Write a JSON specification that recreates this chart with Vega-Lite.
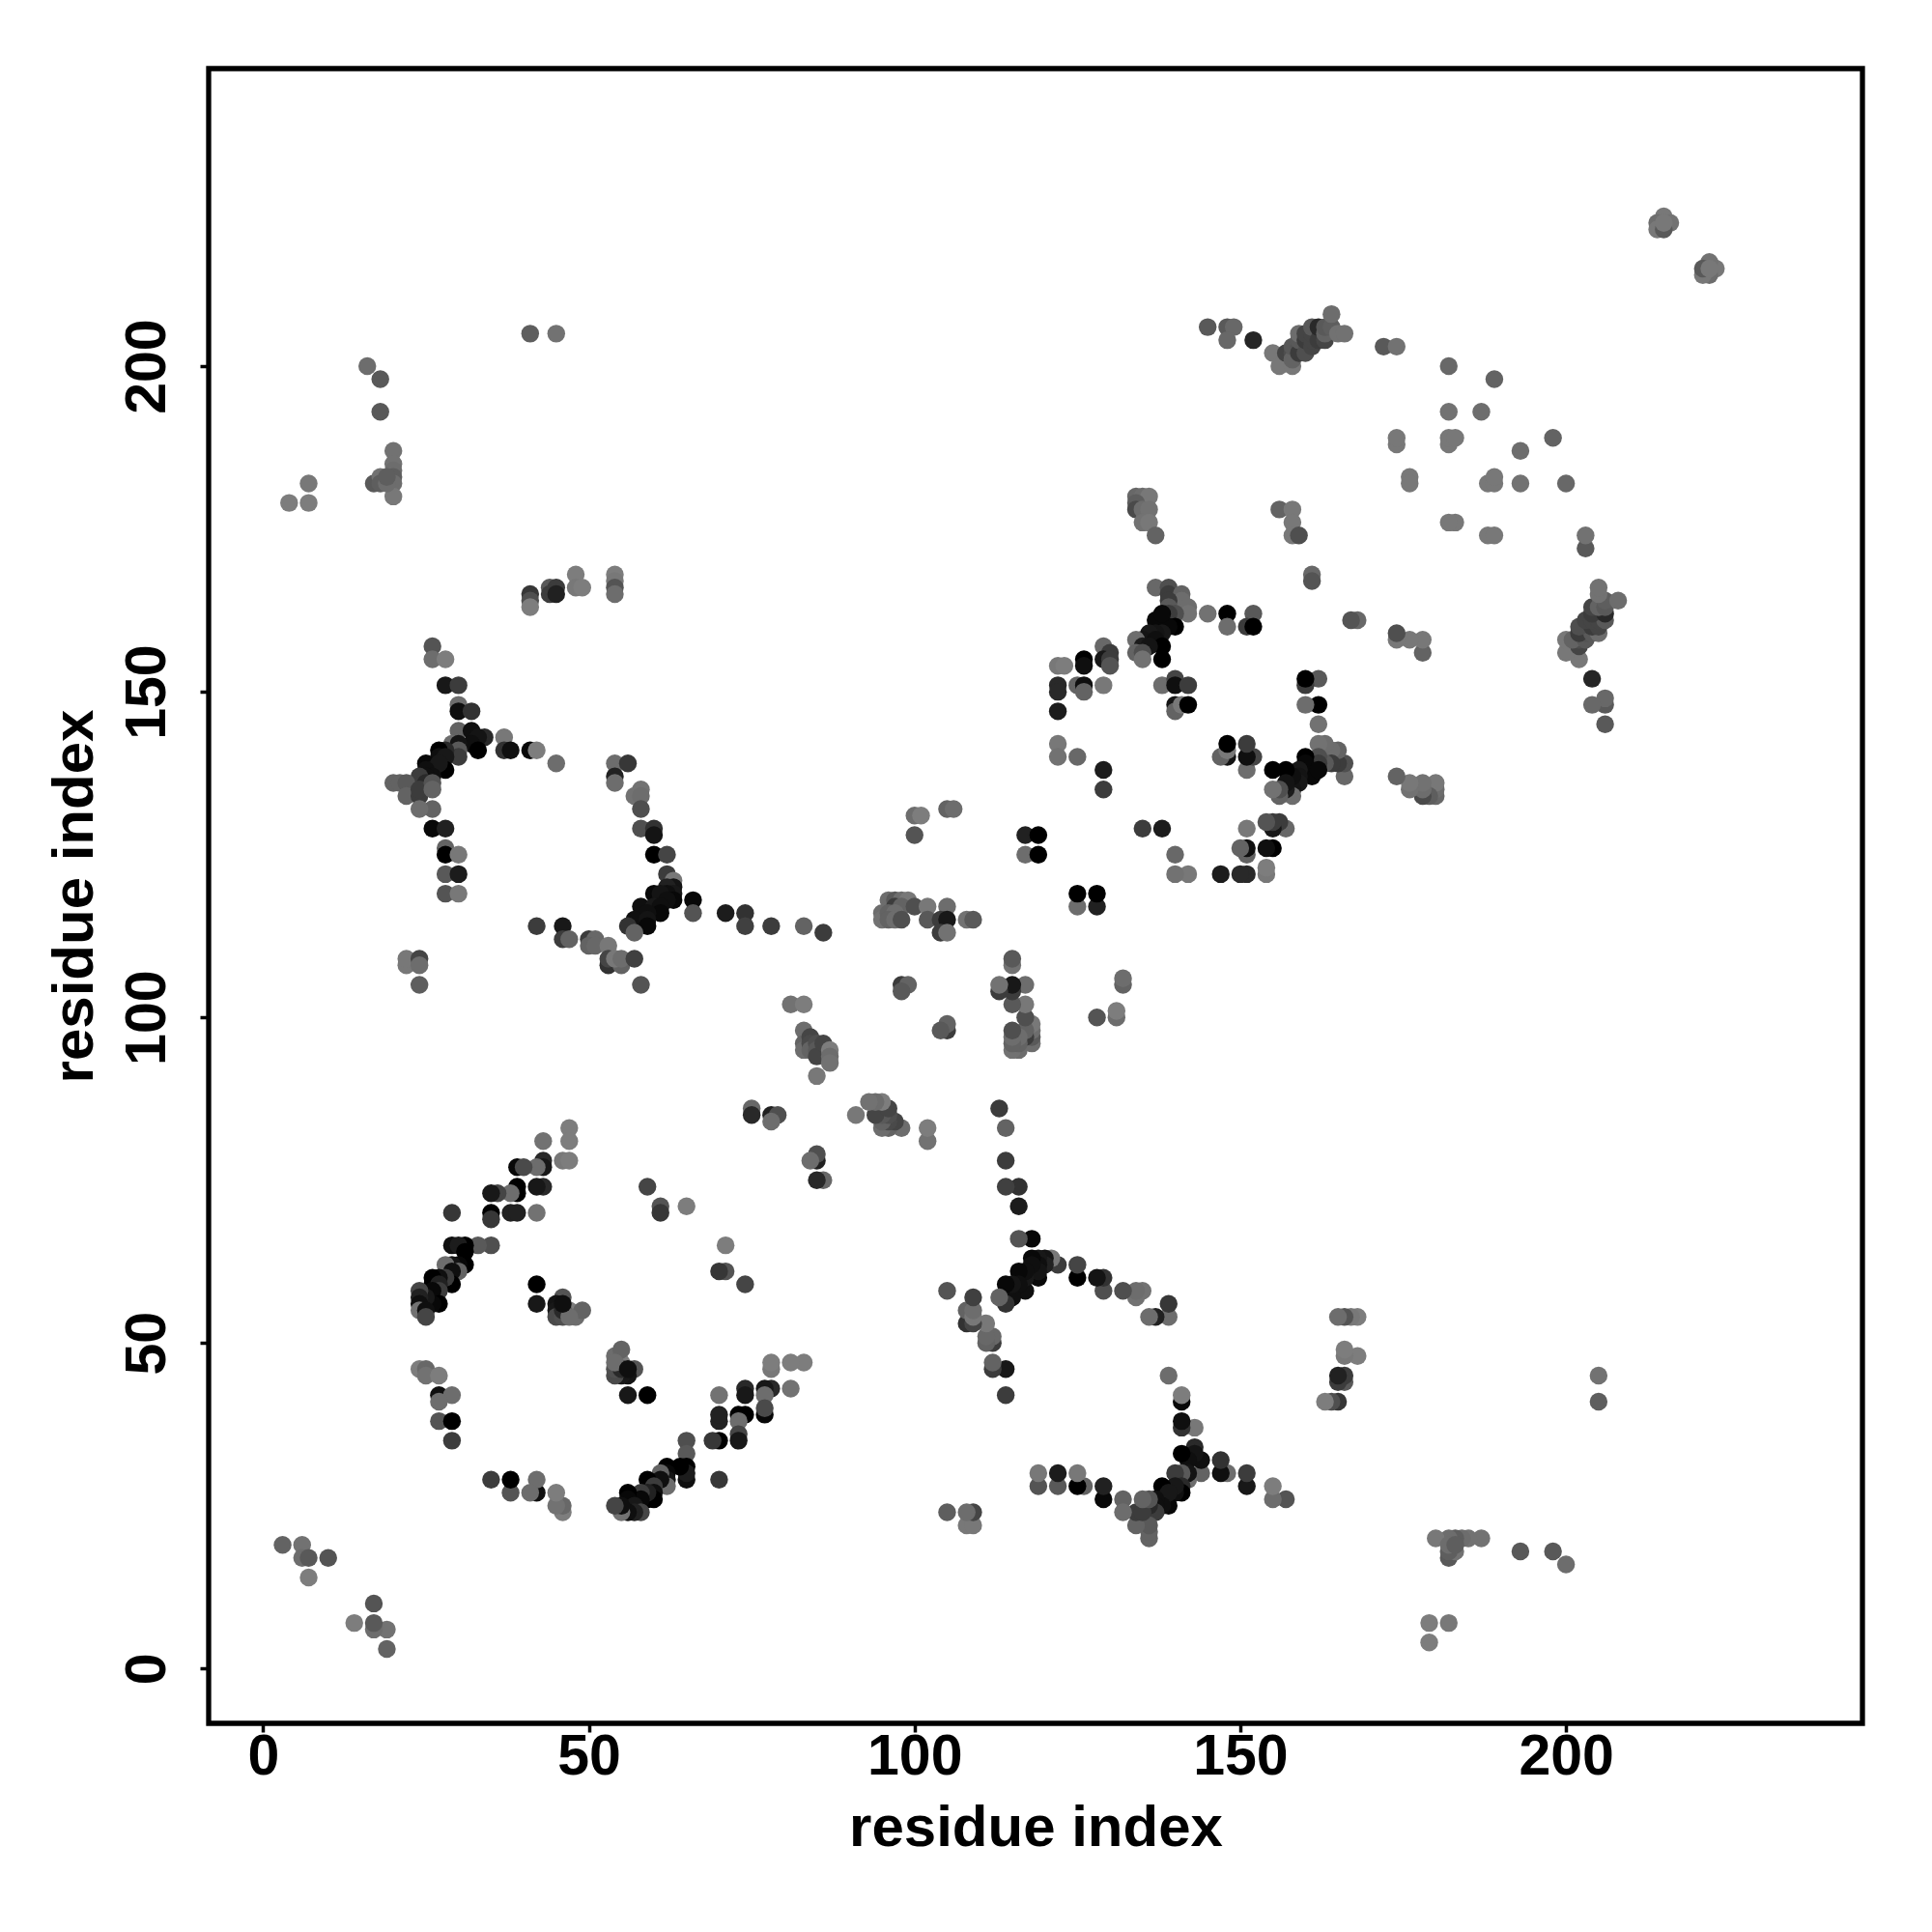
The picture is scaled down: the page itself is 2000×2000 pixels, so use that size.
{"$schema":"https://vega.github.io/schema/vega-lite/v6.json","autosize":{"type":"none"},"padding":{"left":216,"top":71,"right":72,"bottom":216},"width":1712,"height":1713,"background":"white","view":{"stroke":"black","strokeWidth":5.3,"fill":"white"},"config":{"font":"Liberation Sans"},
"data":{"values":[
{"x":3,"y":19,"g":100},{"x":19,"y":3,"g":100},{"x":6,"y":19,"g":115},{"x":19,"y":6,"g":115},{"x":6,"y":17,"g":110},{"x":17,"y":6,"g":110},{"x":7,"y":17,"g":90},{"x":17,"y":7,"g":90},{"x":10,"y":17,"g":85},{"x":17,"y":10,"g":85},{"x":7,"y":14,"g":125},{"x":14,"y":7,"g":125},
{"x":47,"y":83,"g":125},{"x":83,"y":47,"g":125},{"x":43,"y":81,"g":115},{"x":81,"y":43,"g":115},{"x":47,"y":81,"g":125},{"x":81,"y":47,"g":125},{"x":46,"y":78,"g":120},{"x":78,"y":46,"g":120},{"x":47,"y":78,"g":125},{"x":78,"y":47,"g":125},{"x":43,"y":78,"g":40},{"x":78,"y":43,"g":40},{"x":43,"y":77,"g":20},{"x":77,"y":43,"g":20},{"x":42,"y":77,"g":110},{"x":77,"y":42,"g":110},{"x":39,"y":77,"g":5},{"x":77,"y":39,"g":5},{"x":40,"y":77,"g":75},{"x":77,"y":40,"g":75},{"x":43,"y":74,"g":40},{"x":74,"y":43,"g":40},{"x":42,"y":74,"g":20},{"x":74,"y":42,"g":20},{"x":39,"y":74,"g":0},{"x":74,"y":39,"g":0},{"x":39,"y":73,"g":0},{"x":73,"y":39,"g":0},{"x":38,"y":73,"g":110},{"x":73,"y":38,"g":110},{"x":36,"y":73,"g":70},{"x":73,"y":36,"g":70},{"x":35,"y":73,"g":20},{"x":73,"y":35,"g":20},{"x":42,"y":70,"g":115},{"x":70,"y":42,"g":115},{"x":38,"y":70,"g":30},{"x":70,"y":38,"g":30},{"x":39,"y":70,"g":30},{"x":70,"y":39,"g":30},{"x":35,"y":70,"g":0},{"x":70,"y":35,"g":0},{"x":35,"y":69,"g":55},{"x":69,"y":35,"g":55},{"x":29,"y":70,"g":55},{"x":70,"y":29,"g":55},{"x":35,"y":65,"g":80},{"x":65,"y":35,"g":80},{"x":33,"y":65,"g":90},{"x":65,"y":33,"g":90},{"x":31,"y":65,"g":0},{"x":65,"y":31,"g":0},{"x":29,"y":65,"g":10},{"x":65,"y":29,"g":10},{"x":30,"y":65,"g":25},{"x":65,"y":30,"g":25},{"x":31,"y":64,"g":0},{"x":64,"y":31,"g":0},{"x":31,"y":62,"g":0},{"x":62,"y":31,"g":0},{"x":30,"y":62,"g":5},{"x":62,"y":30,"g":5},{"x":29,"y":62,"g":15},{"x":62,"y":29,"g":15},{"x":28,"y":62,"g":110},{"x":62,"y":28,"g":110},{"x":30,"y":61,"g":100},{"x":61,"y":30,"g":100},{"x":29,"y":61,"g":10},{"x":61,"y":29,"g":10},{"x":29,"y":59,"g":0},{"x":59,"y":29,"g":0},{"x":28,"y":60,"g":60},{"x":60,"y":28,"g":60},{"x":27,"y":60,"g":10},{"x":60,"y":27,"g":10},{"x":26,"y":60,"g":0},{"x":60,"y":26,"g":0},{"x":26,"y":59,"g":0},{"x":59,"y":26,"g":0},{"x":27,"y":59,"g":30},{"x":59,"y":27,"g":30},{"x":27,"y":58,"g":60},{"x":58,"y":27,"g":60},{"x":26,"y":58,"g":5},{"x":58,"y":26,"g":5},{"x":27,"y":56,"g":0},{"x":56,"y":27,"g":0},{"x":26,"y":56,"g":5},{"x":56,"y":26,"g":5},{"x":25,"y":57,"g":20},{"x":57,"y":25,"g":20},{"x":24,"y":58,"g":70},{"x":58,"y":24,"g":70},{"x":24,"y":57,"g":30},{"x":57,"y":24,"g":30},{"x":24,"y":56,"g":10},{"x":56,"y":24,"g":10},{"x":24,"y":55,"g":115},{"x":55,"y":24,"g":115},{"x":25,"y":55,"g":10},{"x":55,"y":25,"g":10},{"x":25,"y":54,"g":70},{"x":54,"y":25,"g":70},
{"x":42,"y":59,"g":0},{"x":59,"y":42,"g":0},{"x":42,"y":56,"g":20},{"x":56,"y":42,"g":20},{"x":46,"y":57,"g":85},{"x":57,"y":46,"g":85},{"x":45,"y":56,"g":15},{"x":56,"y":45,"g":15},{"x":45,"y":55,"g":20},{"x":55,"y":45,"g":20},{"x":45,"y":54,"g":75},{"x":54,"y":45,"g":75},{"x":46,"y":54,"g":80},{"x":54,"y":46,"g":80},{"x":47,"y":55,"g":125},{"x":55,"y":47,"g":125},{"x":48,"y":54,"g":110},{"x":54,"y":48,"g":110},{"x":49,"y":55,"g":100},{"x":55,"y":49,"g":100},{"x":46,"y":55,"g":40},{"x":55,"y":46,"g":40},{"x":47,"y":54,"g":110},{"x":54,"y":47,"g":110},{"x":46,"y":56,"g":10},{"x":56,"y":46,"g":10},
{"x":59,"y":74,"g":70},{"x":74,"y":59,"g":70},{"x":61,"y":71,"g":85},{"x":71,"y":61,"g":85},{"x":61,"y":70,"g":55},{"x":70,"y":61,"g":55},{"x":65,"y":71,"g":125},{"x":71,"y":65,"g":125},{"x":75,"y":86,"g":105},{"x":86,"y":75,"g":105},{"x":75,"y":85,"g":40},{"x":85,"y":75,"g":40},{"x":78,"y":85,"g":30},{"x":85,"y":78,"g":30},{"x":79,"y":85,"g":80},{"x":85,"y":79,"g":80},{"x":78,"y":84,"g":110},{"x":84,"y":78,"g":110},
{"x":24,"y":46,"g":125},{"x":46,"y":24,"g":125},{"x":25,"y":46,"g":105},{"x":46,"y":25,"g":105},{"x":25,"y":45,"g":115},{"x":45,"y":25,"g":115},{"x":27,"y":45,"g":125},{"x":45,"y":27,"g":125},{"x":27,"y":42,"g":10},{"x":42,"y":27,"g":10},{"x":29,"y":42,"g":110},{"x":42,"y":29,"g":110},{"x":27,"y":41,"g":110},{"x":41,"y":27,"g":110},{"x":27,"y":38,"g":85},{"x":38,"y":27,"g":85},{"x":29,"y":38,"g":0},{"x":38,"y":29,"g":0},{"x":29,"y":35,"g":60},{"x":35,"y":29,"g":60},
{"x":41,"y":205,"g":95},{"x":205,"y":41,"g":95},{"x":45,"y":205,"g":115},{"x":205,"y":45,"g":115},{"x":16,"y":200,"g":110},{"x":200,"y":16,"g":110},{"x":18,"y":198,"g":90},{"x":198,"y":18,"g":90},{"x":18,"y":193,"g":90},{"x":193,"y":18,"g":90},{"x":20,"y":187,"g":115},{"x":187,"y":20,"g":115},{"x":20,"y":185,"g":115},{"x":185,"y":20,"g":115},{"x":20,"y":184,"g":110},{"x":184,"y":20,"g":110},{"x":20,"y":183,"g":95},{"x":183,"y":20,"g":95},{"x":20,"y":182,"g":110},{"x":182,"y":20,"g":110},{"x":20,"y":180,"g":120},{"x":180,"y":20,"g":120},{"x":17,"y":182,"g":90},{"x":182,"y":17,"g":90},{"x":18,"y":183,"g":115},{"x":183,"y":18,"g":115},{"x":18,"y":182,"g":95},{"x":182,"y":18,"g":95},{"x":19,"y":182,"g":110},{"x":182,"y":19,"g":110},{"x":19,"y":183,"g":95},{"x":183,"y":19,"g":95},{"x":7,"y":182,"g":120},{"x":182,"y":7,"g":120},{"x":4,"y":179,"g":125},{"x":179,"y":4,"g":125},{"x":7,"y":179,"g":125},{"x":179,"y":7,"g":125},
{"x":41,"y":165,"g":55},{"x":165,"y":41,"g":55},{"x":41,"y":164,"g":80},{"x":164,"y":41,"g":80},{"x":41,"y":163,"g":125},{"x":163,"y":41,"g":125},{"x":44,"y":166,"g":90},{"x":166,"y":44,"g":90},{"x":45,"y":166,"g":60},{"x":166,"y":45,"g":60},{"x":44,"y":165,"g":60},{"x":165,"y":44,"g":60},{"x":45,"y":165,"g":30},{"x":165,"y":45,"g":30},{"x":48,"y":168,"g":125},{"x":168,"y":48,"g":125},{"x":48,"y":166,"g":120},{"x":166,"y":48,"g":120},{"x":49,"y":166,"g":125},{"x":166,"y":49,"g":125},{"x":54,"y":168,"g":125},{"x":168,"y":54,"g":125},{"x":54,"y":167,"g":120},{"x":167,"y":54,"g":120},{"x":54,"y":166,"g":85},{"x":166,"y":54,"g":85},{"x":54,"y":165,"g":110},{"x":165,"y":54,"g":110},
{"x":26,"y":157,"g":85},{"x":157,"y":26,"g":85},{"x":26,"y":155,"g":110},{"x":155,"y":26,"g":110},{"x":28,"y":155,"g":125},{"x":155,"y":28,"g":125},{"x":28,"y":151,"g":20},{"x":151,"y":28,"g":20},{"x":30,"y":151,"g":60},{"x":151,"y":30,"g":60},{"x":30,"y":148,"g":110},{"x":148,"y":30,"g":110},{"x":30,"y":147,"g":10},{"x":147,"y":30,"g":10},{"x":32,"y":147,"g":50},{"x":147,"y":32,"g":50},{"x":30,"y":144,"g":100},{"x":144,"y":30,"g":100},{"x":32,"y":144,"g":10},{"x":144,"y":32,"g":10},{"x":34,"y":143,"g":40},{"x":143,"y":34,"g":40},{"x":33,"y":143,"g":15},{"x":143,"y":33,"g":15},{"x":32,"y":142,"g":10},{"x":142,"y":32,"g":10},{"x":33,"y":141,"g":0},{"x":141,"y":33,"g":0},{"x":29,"y":142,"g":110},{"x":142,"y":29,"g":110},{"x":30,"y":142,"g":15},{"x":142,"y":30,"g":15},{"x":30,"y":141,"g":90},{"x":141,"y":30,"g":90},{"x":30,"y":140,"g":60},{"x":140,"y":30,"g":60},{"x":28,"y":141,"g":40},{"x":141,"y":28,"g":40},{"x":27,"y":141,"g":0},{"x":141,"y":27,"g":0},{"x":27,"y":140,"g":10},{"x":140,"y":27,"g":10},{"x":28,"y":140,"g":20},{"x":140,"y":28,"g":20},{"x":28,"y":138,"g":0},{"x":138,"y":28,"g":0},{"x":25,"y":139,"g":5},{"x":139,"y":25,"g":5},{"x":26,"y":138,"g":20},{"x":138,"y":26,"g":20},{"x":27,"y":139,"g":20},{"x":139,"y":27,"g":20},{"x":25,"y":138,"g":10},{"x":138,"y":25,"g":10},{"x":26,"y":137,"g":10},{"x":137,"y":26,"g":10},{"x":25,"y":137,"g":10},{"x":137,"y":25,"g":10},{"x":24,"y":137,"g":60},{"x":137,"y":24,"g":60},{"x":25,"y":136,"g":40},{"x":136,"y":25,"g":40},{"x":20,"y":136,"g":100},{"x":136,"y":20,"g":100},{"x":21,"y":136,"g":100},{"x":136,"y":21,"g":100},{"x":22,"y":136,"g":90},{"x":136,"y":22,"g":90},{"x":22,"y":134,"g":100},{"x":134,"y":22,"g":100},{"x":24,"y":134,"g":60},{"x":134,"y":24,"g":60},{"x":24,"y":135,"g":60},{"x":135,"y":24,"g":60},{"x":26,"y":136,"g":85},{"x":136,"y":26,"g":85},{"x":26,"y":135,"g":100},{"x":135,"y":26,"g":100},{"x":26,"y":132,"g":100},{"x":132,"y":26,"g":100},{"x":24,"y":132,"g":110},{"x":132,"y":24,"g":110},{"x":26,"y":129,"g":5},{"x":129,"y":26,"g":5},{"x":28,"y":129,"g":30},{"x":129,"y":28,"g":30},{"x":28,"y":126,"g":100},{"x":126,"y":28,"g":100},{"x":28,"y":125,"g":0},{"x":125,"y":28,"g":0},{"x":30,"y":125,"g":120},{"x":125,"y":30,"g":120},{"x":28,"y":122,"g":90},{"x":122,"y":28,"g":90},{"x":30,"y":122,"g":25},{"x":122,"y":30,"g":25},{"x":28,"y":119,"g":85},{"x":119,"y":28,"g":85},{"x":30,"y":119,"g":120},{"x":119,"y":30,"g":120},{"x":37,"y":143,"g":120},{"x":143,"y":37,"g":120},{"x":37,"y":141,"g":50},{"x":141,"y":37,"g":50},{"x":38,"y":141,"g":10},{"x":141,"y":38,"g":10},{"x":41,"y":141,"g":5},{"x":141,"y":41,"g":5},{"x":42,"y":141,"g":125},{"x":141,"y":42,"g":125},{"x":45,"y":139,"g":110},{"x":139,"y":45,"g":110},
{"x":54,"y":139,"g":110},{"x":139,"y":54,"g":110},{"x":56,"y":139,"g":55},{"x":139,"y":56,"g":55},{"x":54,"y":137,"g":30},{"x":137,"y":54,"g":30},{"x":54,"y":136,"g":110},{"x":136,"y":54,"g":110},{"x":58,"y":135,"g":115},{"x":135,"y":58,"g":115},{"x":57,"y":134,"g":115},{"x":134,"y":57,"g":115},{"x":58,"y":134,"g":110},{"x":134,"y":58,"g":110},{"x":58,"y":132,"g":80},{"x":132,"y":58,"g":80},{"x":58,"y":129,"g":80},{"x":129,"y":58,"g":80},{"x":60,"y":129,"g":50},{"x":129,"y":60,"g":50},{"x":60,"y":128,"g":15},{"x":128,"y":60,"g":15},{"x":60,"y":125,"g":0},{"x":125,"y":60,"g":0},{"x":62,"y":125,"g":70},{"x":125,"y":62,"g":70},{"x":62,"y":122,"g":60},{"x":122,"y":62,"g":60},{"x":63,"y":121,"g":120},{"x":121,"y":63,"g":120},{"x":63,"y":120,"g":15},{"x":120,"y":63,"g":15},{"x":62,"y":120,"g":30},{"x":120,"y":62,"g":30},{"x":63,"y":119,"g":20},{"x":119,"y":63,"g":20},{"x":62,"y":119,"g":10},{"x":119,"y":62,"g":10},{"x":60,"y":119,"g":5},{"x":119,"y":60,"g":5},{"x":61,"y":119,"g":15},{"x":119,"y":61,"g":15},{"x":63,"y":118,"g":5},{"x":118,"y":63,"g":5},{"x":62,"y":118,"g":10},{"x":118,"y":62,"g":10},{"x":66,"y":118,"g":5},{"x":118,"y":66,"g":5},{"x":66,"y":116,"g":85},{"x":116,"y":66,"g":85},{"x":58,"y":117,"g":10},{"x":117,"y":58,"g":10},{"x":60,"y":117,"g":20},{"x":117,"y":60,"g":20},{"x":61,"y":117,"g":10},{"x":117,"y":61,"g":10},{"x":61,"y":116,"g":5},{"x":116,"y":61,"g":5},{"x":59,"y":116,"g":10},{"x":116,"y":59,"g":10},{"x":57,"y":115,"g":10},{"x":115,"y":57,"g":10},{"x":59,"y":115,"g":15},{"x":115,"y":59,"g":15},{"x":59,"y":114,"g":5},{"x":114,"y":59,"g":5},{"x":56,"y":114,"g":50},{"x":114,"y":56,"g":50},{"x":57,"y":113,"g":100},{"x":113,"y":57,"g":100},
{"x":71,"y":116,"g":25},{"x":116,"y":71,"g":25},{"x":74,"y":116,"g":50},{"x":116,"y":74,"g":50},{"x":74,"y":114,"g":65},{"x":114,"y":74,"g":65},{"x":78,"y":114,"g":60},{"x":114,"y":78,"g":60},{"x":83,"y":114,"g":100},{"x":114,"y":83,"g":100},{"x":86,"y":113,"g":60},{"x":113,"y":86,"g":60},{"x":42,"y":114,"g":60},{"x":114,"y":42,"g":60},{"x":46,"y":114,"g":20},{"x":114,"y":46,"g":20},{"x":46,"y":112,"g":60},{"x":112,"y":46,"g":60},{"x":47,"y":112,"g":100},{"x":112,"y":47,"g":100},{"x":50,"y":112,"g":60},{"x":112,"y":50,"g":60},{"x":51,"y":112,"g":105},{"x":112,"y":51,"g":105},{"x":50,"y":111,"g":100},{"x":111,"y":50,"g":100},{"x":51,"y":111,"g":105},{"x":111,"y":51,"g":105},{"x":53,"y":111,"g":120},{"x":111,"y":53,"g":120},{"x":53,"y":108,"g":50},{"x":108,"y":53,"g":50},{"x":53,"y":109,"g":70},{"x":109,"y":53,"g":70},{"x":55,"y":108,"g":100},{"x":108,"y":55,"g":100},{"x":54,"y":109,"g":120},{"x":109,"y":54,"g":120},{"x":55,"y":109,"g":110},{"x":109,"y":55,"g":110},{"x":57,"y":109,"g":65},{"x":109,"y":57,"g":65},{"x":58,"y":105,"g":85},{"x":105,"y":58,"g":85},{"x":22,"y":108,"g":120},{"x":108,"y":22,"g":120},{"x":22,"y":109,"g":120},{"x":109,"y":22,"g":120},{"x":24,"y":109,"g":70},{"x":109,"y":24,"g":70},{"x":24,"y":108,"g":110},{"x":108,"y":24,"g":110},{"x":24,"y":105,"g":95},{"x":105,"y":24,"g":95},
{"x":81,"y":102,"g":115},{"x":102,"y":81,"g":115},{"x":83,"y":102,"g":125},{"x":102,"y":83,"g":125},{"x":83,"y":98,"g":110},{"x":98,"y":83,"g":110},{"x":83,"y":96,"g":100},{"x":96,"y":83,"g":100},{"x":83,"y":95,"g":110},{"x":95,"y":83,"g":110},{"x":84,"y":97,"g":70},{"x":97,"y":84,"g":70},{"x":84,"y":96,"g":75},{"x":96,"y":84,"g":75},{"x":84,"y":95,"g":100},{"x":95,"y":84,"g":100},{"x":85,"y":96,"g":80},{"x":96,"y":85,"g":80},{"x":85,"y":95,"g":90},{"x":95,"y":85,"g":90},{"x":85,"y":94,"g":70},{"x":94,"y":85,"g":70},{"x":85,"y":91,"g":120},{"x":91,"y":85,"g":120},{"x":86,"y":96,"g":70},{"x":96,"y":86,"g":70},{"x":87,"y":95,"g":125},{"x":95,"y":87,"g":125},{"x":87,"y":94,"g":110},{"x":94,"y":87,"g":110},{"x":87,"y":93,"g":115},{"x":93,"y":87,"g":115},
{"x":100,"y":131,"g":110},{"x":131,"y":100,"g":110},{"x":101,"y":131,"g":125},{"x":131,"y":101,"g":125},{"x":100,"y":128,"g":85},{"x":128,"y":100,"g":85},{"x":105,"y":132,"g":100},{"x":132,"y":105,"g":100},{"x":106,"y":132,"g":110},{"x":132,"y":106,"g":110},{"x":117,"y":128,"g":30},{"x":128,"y":117,"g":30},{"x":119,"y":128,"g":0},{"x":128,"y":119,"g":0},{"x":117,"y":125,"g":110},{"x":125,"y":117,"g":110},{"x":119,"y":125,"g":0},{"x":125,"y":119,"g":0},
{"x":95,"y":116,"g":110},{"x":116,"y":95,"g":110},{"x":95,"y":115,"g":115},{"x":115,"y":95,"g":115},{"x":96,"y":118,"g":110},{"x":118,"y":96,"g":110},{"x":97,"y":118,"g":90},{"x":118,"y":97,"g":90},{"x":98,"y":118,"g":110},{"x":118,"y":98,"g":110},{"x":99,"y":118,"g":120},{"x":118,"y":99,"g":120},{"x":97,"y":117,"g":60},{"x":117,"y":97,"g":60},{"x":98,"y":117,"g":100},{"x":117,"y":98,"g":100},{"x":96,"y":116,"g":100},{"x":116,"y":96,"g":100},{"x":97,"y":116,"g":110},{"x":116,"y":97,"g":110},{"x":96,"y":115,"g":100},{"x":115,"y":96,"g":100},{"x":97,"y":115,"g":110},{"x":115,"y":97,"g":110},{"x":98,"y":115,"g":80},{"x":115,"y":98,"g":80},{"x":100,"y":117,"g":80},{"x":117,"y":100,"g":80},{"x":102,"y":117,"g":120},{"x":117,"y":102,"g":120},{"x":105,"y":117,"g":110},{"x":117,"y":105,"g":110},{"x":102,"y":115,"g":90},{"x":115,"y":102,"g":90},{"x":104,"y":115,"g":60},{"x":115,"y":104,"g":60},{"x":105,"y":115,"g":20},{"x":115,"y":105,"g":20},{"x":104,"y":113,"g":60},{"x":113,"y":104,"g":60},{"x":105,"y":113,"g":115},{"x":113,"y":105,"g":115},{"x":108,"y":115,"g":115},{"x":115,"y":108,"g":115},{"x":109,"y":115,"g":90},{"x":115,"y":109,"g":90},{"x":98,"y":105,"g":60},{"x":105,"y":98,"g":60},{"x":99,"y":105,"g":100},{"x":105,"y":99,"g":100},{"x":98,"y":104,"g":90},{"x":104,"y":98,"g":90},
{"x":129,"y":135,"g":60},{"x":135,"y":129,"g":60},{"x":129,"y":138,"g":25},{"x":138,"y":129,"g":25},{"x":122,"y":142,"g":120},{"x":142,"y":122,"g":120},{"x":122,"y":140,"g":115},{"x":140,"y":122,"g":115},{"x":125,"y":140,"g":105},{"x":140,"y":125,"g":105},
{"x":134,"y":180,"g":105},{"x":180,"y":134,"g":105},{"x":135,"y":180,"g":110},{"x":180,"y":135,"g":110},{"x":136,"y":180,"g":120},{"x":180,"y":136,"g":120},{"x":134,"y":179,"g":95},{"x":179,"y":134,"g":95},{"x":134,"y":178,"g":75},{"x":178,"y":134,"g":75},{"x":135,"y":178,"g":110},{"x":178,"y":135,"g":110},{"x":136,"y":178,"g":115},{"x":178,"y":136,"g":115},{"x":135,"y":176,"g":115},{"x":176,"y":135,"g":115},{"x":136,"y":176,"g":120},{"x":176,"y":136,"g":120},{"x":137,"y":174,"g":100},{"x":174,"y":137,"g":100},{"x":156,"y":178,"g":100},{"x":178,"y":156,"g":100},{"x":158,"y":178,"g":120},{"x":178,"y":158,"g":120},{"x":158,"y":176,"g":120},{"x":176,"y":158,"g":120},{"x":158,"y":174,"g":120},{"x":174,"y":158,"g":120},{"x":159,"y":174,"g":80},{"x":174,"y":159,"g":80},{"x":176,"y":183,"g":120},{"x":183,"y":176,"g":120},{"x":176,"y":182,"g":120},{"x":182,"y":176,"g":120},{"x":182,"y":188,"g":120},{"x":188,"y":182,"g":120},{"x":182,"y":189,"g":120},{"x":189,"y":182,"g":120},{"x":183,"y":189,"g":120},{"x":189,"y":183,"g":120},{"x":182,"y":193,"g":115},{"x":193,"y":182,"g":115},{"x":182,"y":200,"g":105},{"x":200,"y":182,"g":105},{"x":187,"y":193,"g":110},{"x":193,"y":187,"g":110},{"x":189,"y":198,"g":100},{"x":198,"y":189,"g":100},{"x":174,"y":188,"g":120},{"x":188,"y":174,"g":120},{"x":174,"y":189,"g":120},{"x":189,"y":174,"g":120},{"x":172,"y":203,"g":90},{"x":203,"y":172,"g":90},{"x":174,"y":203,"g":115},{"x":203,"y":174,"g":115},{"x":161,"y":168,"g":105},{"x":168,"y":161,"g":105},{"x":161,"y":167,"g":85},{"x":167,"y":161,"g":85},
{"x":137,"y":166,"g":105},{"x":166,"y":137,"g":105},{"x":139,"y":166,"g":80},{"x":166,"y":139,"g":80},{"x":139,"y":165,"g":60},{"x":165,"y":139,"g":60},{"x":141,"y":165,"g":100},{"x":165,"y":141,"g":100},{"x":141,"y":164,"g":110},{"x":164,"y":141,"g":110},{"x":142,"y":163,"g":110},{"x":163,"y":142,"g":110},{"x":142,"y":162,"g":115},{"x":162,"y":142,"g":115},{"x":139,"y":164,"g":60},{"x":164,"y":139,"g":60},{"x":139,"y":163,"g":90},{"x":163,"y":139,"g":90},{"x":140,"y":162,"g":80},{"x":162,"y":140,"g":80},{"x":145,"y":162,"g":115},{"x":162,"y":145,"g":115},{"x":148,"y":162,"g":0},{"x":162,"y":148,"g":0},{"x":152,"y":162,"g":90},{"x":162,"y":152,"g":90},{"x":148,"y":160,"g":110},{"x":160,"y":148,"g":110},{"x":151,"y":160,"g":60},{"x":160,"y":151,"g":60},{"x":152,"y":160,"g":0},{"x":160,"y":152,"g":0},{"x":137,"y":161,"g":5},{"x":161,"y":137,"g":5},{"x":139,"y":162,"g":60},{"x":162,"y":139,"g":60},{"x":140,"y":160,"g":0},{"x":160,"y":140,"g":0},{"x":139,"y":160,"g":5},{"x":160,"y":139,"g":5},{"x":138,"y":162,"g":5},{"x":162,"y":138,"g":5},{"x":138,"y":159,"g":20},{"x":159,"y":138,"g":20},{"x":137,"y":159,"g":15},{"x":159,"y":137,"g":15},{"x":136,"y":159,"g":20},{"x":159,"y":136,"g":20},{"x":135,"y":158,"g":15},{"x":158,"y":135,"g":15},{"x":134,"y":158,"g":110},{"x":158,"y":134,"g":110},{"x":137,"y":158,"g":10},{"x":158,"y":137,"g":10},{"x":138,"y":157,"g":0},{"x":157,"y":138,"g":0},{"x":135,"y":157,"g":25},{"x":157,"y":135,"g":25},{"x":136,"y":157,"g":15},{"x":157,"y":136,"g":15},{"x":134,"y":156,"g":100},{"x":156,"y":134,"g":100},{"x":135,"y":156,"g":80},{"x":156,"y":135,"g":80},{"x":135,"y":155,"g":115},{"x":155,"y":135,"g":115},{"x":138,"y":155,"g":0},{"x":155,"y":138,"g":0},
{"x":129,"y":157,"g":105},{"x":157,"y":129,"g":105},{"x":130,"y":156,"g":60},{"x":156,"y":130,"g":60},{"x":129,"y":155,"g":20},{"x":155,"y":129,"g":20},{"x":130,"y":155,"g":60},{"x":155,"y":130,"g":60},{"x":130,"y":154,"g":85},{"x":154,"y":130,"g":85},{"x":126,"y":155,"g":0},{"x":155,"y":126,"g":0},{"x":126,"y":154,"g":10},{"x":154,"y":126,"g":10},{"x":122,"y":154,"g":120},{"x":154,"y":122,"g":120},{"x":123,"y":154,"g":125},{"x":154,"y":123,"g":125},{"x":122,"y":151,"g":40},{"x":151,"y":122,"g":40},{"x":122,"y":150,"g":40},{"x":150,"y":122,"g":40},{"x":125,"y":151,"g":100},{"x":151,"y":125,"g":100},{"x":126,"y":151,"g":10},{"x":151,"y":126,"g":10},{"x":126,"y":150,"g":100},{"x":150,"y":126,"g":100},{"x":129,"y":151,"g":120},{"x":151,"y":129,"g":120},{"x":122,"y":147,"g":25},{"x":147,"y":122,"g":25},{"x":138,"y":151,"g":110},{"x":151,"y":138,"g":110},{"x":140,"y":152,"g":70},{"x":152,"y":140,"g":70},{"x":140,"y":151,"g":10},{"x":151,"y":140,"g":10},{"x":142,"y":151,"g":60},{"x":151,"y":142,"g":60},{"x":140,"y":148,"g":15},{"x":148,"y":140,"g":15},{"x":140,"y":147,"g":100},{"x":147,"y":140,"g":100},{"x":141,"y":148,"g":120},{"x":148,"y":141,"g":120},{"x":142,"y":148,"g":0},{"x":148,"y":142,"g":0},
{"x":145,"y":206,"g":90},{"x":206,"y":145,"g":90},{"x":148,"y":206,"g":90},{"x":206,"y":148,"g":90},{"x":149,"y":206,"g":105},{"x":206,"y":149,"g":105},{"x":148,"y":204,"g":105},{"x":204,"y":148,"g":105},{"x":152,"y":204,"g":35},{"x":204,"y":152,"g":35},{"x":155,"y":202,"g":120},{"x":202,"y":155,"g":120},{"x":156,"y":200,"g":120},{"x":200,"y":156,"g":120},{"x":158,"y":200,"g":120},{"x":200,"y":158,"g":120},{"x":157,"y":202,"g":70},{"x":202,"y":157,"g":70},{"x":158,"y":202,"g":80},{"x":202,"y":158,"g":80},{"x":158,"y":201,"g":100},{"x":201,"y":158,"g":100},{"x":158,"y":203,"g":90},{"x":203,"y":158,"g":90},{"x":159,"y":203,"g":85},{"x":203,"y":159,"g":85},{"x":159,"y":202,"g":60},{"x":202,"y":159,"g":60},{"x":159,"y":204,"g":90},{"x":204,"y":159,"g":90},{"x":159,"y":205,"g":110},{"x":205,"y":159,"g":110},{"x":160,"y":202,"g":80},{"x":202,"y":160,"g":80},{"x":160,"y":204,"g":60},{"x":204,"y":160,"g":60},{"x":160,"y":205,"g":70},{"x":205,"y":160,"g":70},{"x":161,"y":203,"g":70},{"x":203,"y":161,"g":70},{"x":161,"y":204,"g":70},{"x":204,"y":161,"g":70},{"x":161,"y":205,"g":70},{"x":205,"y":161,"g":70},{"x":161,"y":206,"g":90},{"x":206,"y":161,"g":90},{"x":162,"y":204,"g":60},{"x":204,"y":162,"g":60},{"x":162,"y":206,"g":40},{"x":206,"y":162,"g":40},{"x":163,"y":204,"g":70},{"x":204,"y":163,"g":70},{"x":163,"y":205,"g":100},{"x":205,"y":163,"g":100},{"x":163,"y":206,"g":90},{"x":206,"y":163,"g":90},{"x":164,"y":206,"g":95},{"x":206,"y":164,"g":95},{"x":164,"y":208,"g":110},{"x":208,"y":164,"g":110},{"x":165,"y":205,"g":115},{"x":205,"y":165,"g":115},{"x":166,"y":205,"g":115},{"x":205,"y":166,"g":115},
{"x":215,"y":223,"g":120},{"x":223,"y":215,"g":120},{"x":214,"y":222,"g":110},{"x":222,"y":214,"g":110},{"x":216,"y":222,"g":115},{"x":222,"y":216,"g":115},{"x":214,"y":221,"g":120},{"x":221,"y":214,"g":120},{"x":215,"y":221,"g":90},{"x":221,"y":215,"g":90},{"x":215,"y":222,"g":120},{"x":222,"y":215,"g":120}
]},
"mark":{"type":"point","filled":true,"shape":"circle","size":340,"opacity":1,"strokeWidth":0},
"encoding":{
"x":{"field":"x","type":"quantitative","scale":{"domain":[-8.35,245.5],"nice":false,"zero":false},"axis":{"title":"residue index","values":[0,50,100,150,200],"format":"d","grid":false,"domain":false,"tickColor":"black","tickWidth":3.5,"tickSize":9,"labelFont":"Liberation Sans","labelFontWeight":"bold","labelFontSize":59,"labelColor":"black","labelPadding":-4,"titleFont":"Liberation Sans","titleFontWeight":"bold","titleFontSize":60,"titleColor":"black","titlePadding":15}},
"y":{"field":"y","type":"quantitative","scale":{"domain":[-8.41,245.7],"nice":false,"zero":false},"axis":{"title":"residue index","values":[0,50,100,150,200],"format":"d","grid":false,"domain":false,"tickColor":"black","tickWidth":3.5,"tickSize":9,"labelFont":"Liberation Sans","labelFontWeight":"bold","labelFontSize":59,"labelColor":"black","labelAngle":-90,"labelAlign":"center","labelBaseline":"bottom","labelPadding":25,"titleFont":"Liberation Sans","titleFontWeight":"bold","titleFontSize":60,"titleColor":"black","titlePadding":15}},
"color":{"field":"g","type":"quantitative","legend":null,"scale":{"domain":[0,128],"range":["#000000","#808080"]}},
"order":[{"field":"x","type":"quantitative"},{"field":"y","type":"quantitative"}]
}}
